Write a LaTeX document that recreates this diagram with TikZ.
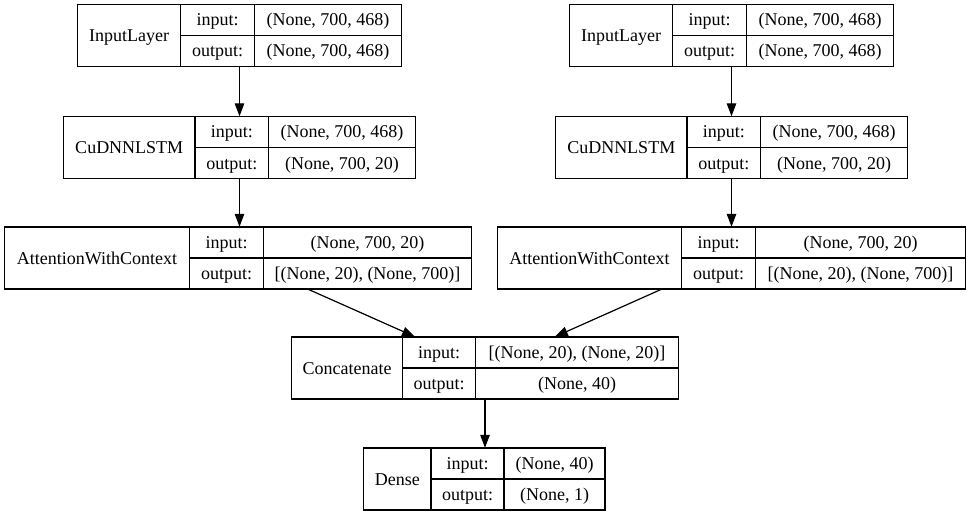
\documentclass[tikz,border=0pt]{standalone}
\usepackage{fontspec}
\setmainfont{Liberation Serif}
\usetikzlibrary{positioning, fit, arrows.meta}

% one keras layer: name, top left corner, cell widths, type, input shape, output shape
\newcommand{\layer}[8]{%
	\node[namecell, minimum width=#3] (#1) at (#2) {#6};
	\node[rowcell, minimum width=#4] (#1-il) at (#1.north east) {input:};
	\node[rowcell, minimum width=#5] (#1-iv) at (#1-il.north east) {#7};
	\node[rowcell, minimum width=#4] (#1-ol) at (#1-il.south west) {output:};
	\node[rowcell, minimum width=#5] (#1-ov) at (#1-ol.north east) {#8};
	\node[fit=(#1)(#1-ov), inner sep=0pt] (#1-box) {};
}

\begin{document}
\begin{tikzpicture}[x=1pt, y=-1pt, font=\fontsize{18}{20}\selectfont,
		namecell/.style={draw, line width=1.2pt, anchor=north west, minimum height=62pt, inner sep=0pt, outer sep=0pt, text height=14pt, text depth=2pt},
		rowcell/.style={draw, line width=1.2pt, anchor=north west, minimum height=31pt, inner sep=0pt, outer sep=0pt, text height=14pt, text depth=2pt},
		arr/.style={-{Triangle[length=13pt, width=9.5pt]}, line width=1.2pt}]
	\useasboundingbox (0,0) rectangle (971,516);

	\layer{in1}{77.5,4.5}{103pt}{74pt}{147pt}{InputLayer}{(None, 700, 468)}{(None, 700, 468)}
	\layer{in2}{569.5,4.5}{103pt}{74pt}{147pt}{InputLayer}{(None, 700, 468)}{(None, 700, 468)}

	\layer{lstm1}{63.5,116.5}{131.5pt}{73.5pt}{147pt}{CuDNNLSTM}{(None, 700, 468)}{(None, 700, 20)}
	\layer{lstm2}{555.5,116.5}{131.5pt}{73.5pt}{147pt}{CuDNNLSTM}{(None, 700, 468)}{(None, 700, 20)}

	\layer{att1}{4.5,227}{185pt}{74pt}{208pt}{AttentionWithContext}{(None, 700, 20)}{[(None, 20), (None, 700)]}
	\layer{att2}{497.5,227}{184pt}{74pt}{210pt}{AttentionWithContext}{(None, 700, 20)}{[(None, 20), (None, 700)]}

	\layer{cat}{291.5,337}{111pt}{73pt}{203pt}{Concatenate}{[(None, 20), (None, 20)]}{(None, 40)}

	\layer{dense}{363.5,448}{67.5pt}{73pt}{101pt}{Dense}{(None, 40)}{(None, 1)}

	\draw[arr] (in1-box.south) -- (in1-box.south |- lstm1-box.north);
	\draw[arr] (in2-box.south) -- (in2-box.south |- lstm2-box.north);
	\draw[arr] (lstm1-box.south) -- (lstm1-box.south |- att1-box.north);
	\draw[arr] (lstm2-box.south) -- (lstm2-box.south |- att2-box.north);
	\draw[arr] (att1-box) -- (cat-box);
	\draw[arr] (att2-box) -- (cat-box);
	\draw[arr] (cat-box.south) -- (cat-box.south |- dense-box.north);
\end{tikzpicture}
\end{document}
